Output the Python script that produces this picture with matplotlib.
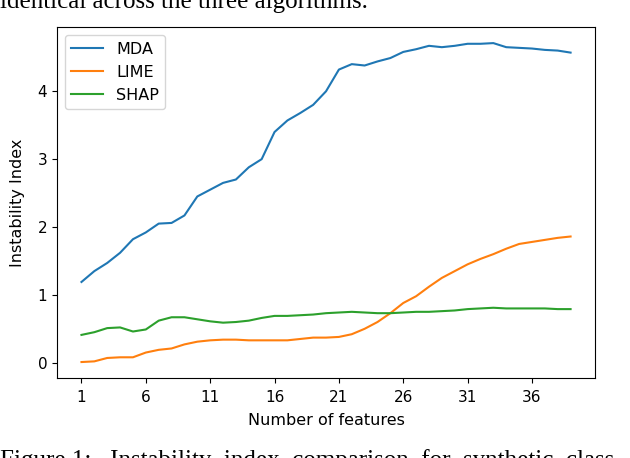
import matplotlib
matplotlib.use('Agg')
import matplotlib.pyplot as plt
import numpy as np

# values
n_features = list(range(1, 40))
mda = [1.19, 1.35, 1.47, 1.62, 1.82, 1.92, 2.05, 2.06, 2.17, 2.45,
       2.55, 2.65, 2.70, 2.88, 3.00, 3.40, 3.57, 3.68, 3.80, 4.00,
       4.32, 4.40, 4.38, 4.44, 4.49, 4.58, 4.62, 4.67, 4.65, 4.67,
       4.70, 4.70, 4.71, 4.65, 4.64, 4.63, 4.61, 4.60, 4.57]
lime = [0.01, 0.02, 0.07, 0.08, 0.08, 0.15, 0.19, 0.21, 0.27, 0.31,
        0.33, 0.34, 0.34, 0.33, 0.33, 0.33, 0.33, 0.35, 0.37, 0.37,
        0.38, 0.42, 0.50, 0.60, 0.73, 0.88, 0.98, 1.12, 1.25, 1.35,
        1.45, 1.53, 1.60, 1.68, 1.75, 1.78, 1.81, 1.84, 1.86]
shap = [0.41, 0.45, 0.51, 0.52, 0.46, 0.49, 0.62, 0.67, 0.67, 0.64,
        0.61, 0.59, 0.60, 0.62, 0.66, 0.69, 0.69, 0.70, 0.71, 0.73,
        0.74, 0.75, 0.74, 0.73, 0.73, 0.74, 0.75, 0.75, 0.76, 0.77,
        0.79, 0.80, 0.81, 0.80, 0.80, 0.80, 0.80, 0.79, 0.79]
xticks = [1, 6, 11, 16, 21, 26, 31, 36]
yticks = [0, 1, 2, 3, 4]

fig = plt.figure(figsize=(6.3, 4.58), dpi=100)
ax = fig.add_axes([0.0905, 0.1747, 0.854, 0.766])
ax.plot(n_features, mda, color='#1f77b4', label='MDA')
ax.plot(n_features, lime, color='#ff7f0e', label='LIME')
ax.plot(n_features, shap, color='#2ca02c', label='SHAP')
ax.set_xticks(xticks)
ax.set_yticks(yticks)
ax.set_xlabel('Number of features', fontsize=11.5, labelpad=6)
ax.set_ylabel('Instability Index', fontsize=11.5, labelpad=9)
ax.tick_params(labelsize=11)
ax.tick_params(axis='x', pad=5)
ax.legend(loc='upper left', fontsize=11.5)

# surrounding paper text, cut off by the page crop like in the original
fig.text(0.0, 0.982, 'identical across the three algorithms.', family='Liberation Serif',
         fontsize=18, va='baseline', ha='left')
fig.text(0.0, -0.02, 'Figure 1:   Instability  index  comparison  for  synthetic  class',
         family='Liberation Serif', fontsize=18, va='baseline', ha='left')

plt.savefig('out.png', dpi=100)
plt.close()
